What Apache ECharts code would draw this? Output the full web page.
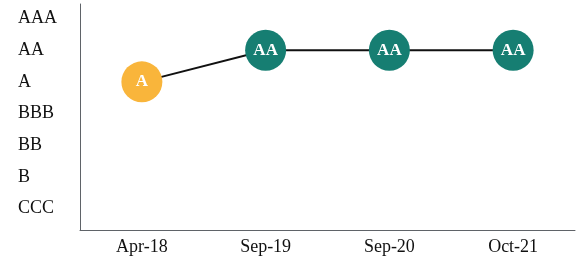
<!DOCTYPE html>
<html><head><meta charset="utf-8">
<script src="https://cdn.jsdelivr.net/npm/echarts@6/dist/echarts.min.js"></script>
<style>html,body{margin:0;padding:0;background:#fff}#c{width:581px;height:261px}</style>
</head><body><div id="c"></div>
<script>
const dates = ['Apr-18', 'Sep-19', 'Sep-20', 'Oct-21'];
const ratingScale = ['CCC', 'B', 'BB', 'BBB', 'A', 'AA', 'AAA'];
const ratings = ['A', 'AA', 'AA', 'AA'];
const ratingColors = { 'A': '#F9B53B', 'AA': '#167E72' };

const values = ratings.map(r => ratingScale.indexOf(r) + 1);
const chart = echarts.init(document.getElementById('c'), null, { renderer: 'canvas' });
chart.setOption({
  animation: false,
  grid: { left: 80, right: 6, top: 4, bottom: 31 },
  xAxis: {
    type: 'category', data: dates, boundaryGap: true,
    axisLine: { lineStyle: { color: '#5f6368', width: 1 } },
    axisTick: { show: false },
    axisLabel: { color: '#111', fontFamily: 'Liberation Serif', fontSize: 18, margin: 8 }
  },
  yAxis: {
    type: 'value', min: 0.32, max: 7.46,
    splitLine: { show: false },
    axisLine: { show: true, lineStyle: { color: '#5f6368', width: 1 } },
    axisTick: { show: false },
    axisLabel: {
      customValues: ratingScale.map((_, i) => i + 1),
      formatter: v => ratingScale[Math.round(v) - 1] || '',
      align: 'left', margin: 62,
      color: '#111', fontFamily: 'Liberation Serif', fontSize: 18
    }
  },
  series: [{
    type: 'line', data: values.map((v, i) => ({
      value: v,
      itemStyle: { color: ratingColors[ratings[i]] }
    })),
    symbol: 'circle', symbolSize: 41,
    lineStyle: { color: '#111', width: 2 },
    label: {
      show: true, position: 'inside',
      formatter: p => ratings[p.dataIndex],
      color: '#fff', fontFamily: 'Liberation Serif', fontWeight: 'bold', fontSize: 17
    }
  }]
});
</script></body></html>
